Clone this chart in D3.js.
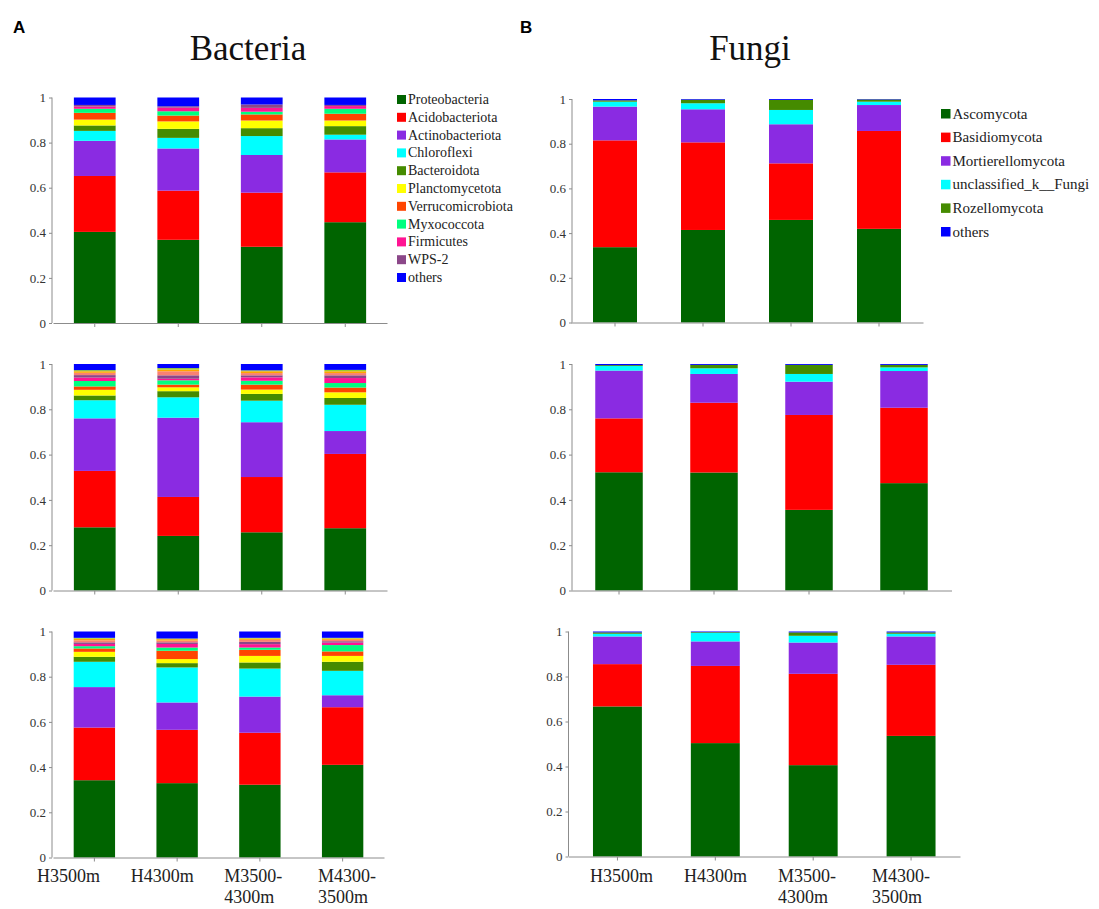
<!DOCTYPE html>
<html>
<head>
<meta charset="utf-8">
<script src="https://cdn.jsdelivr.net/npm/d3@7/dist/d3.min.js"></script>
<style>
  body { margin: 0; background: #fff; }
  svg { display: block; }
  .tick text { font-family: "Liberation Serif", "Times New Roman", serif; font-size: 13px; fill: #333; }
  .axis path, .axis line { stroke: #8c8c8c; }
</style>
</head>
<body>
<script>
// sites on the x axis
var sites = ["H3500m", "H4300m", "M3500-4300m", "M4300-3500m"];
var siteLabels = [["H3500m"], ["H4300m"], ["M3500-", "4300m"], ["M4300-", "3500m"]];
var yTicks = [0, 0.2, 0.4, 0.6, 0.8, 1];

// bacteria taxa (bottom of stack first); the three unnamed ones only show up in the lower panels
var bacteriaTaxa = ["Proteobacteria", "Acidobacteriota", "Actinobacteriota", "Chloroflexi", "Bacteroidota",
  "Planctomycetota", "Verrucomicrobiota", "Myxococcota", "Firmicutes", "WPS-2", "minor1", "minor2", "minor3", "others"];
var bacteriaLegend = ["Proteobacteria", "Acidobacteriota", "Actinobacteriota", "Chloroflexi", "Bacteroidota",
  "Planctomycetota", "Verrucomicrobiota", "Myxococcota", "Firmicutes", "WPS-2", "others"];
var bacteriaColors = ["#006400", "#ff0000", "#8a2be2", "#00ffff", "#458b00", "#ffff00", "#ff4500",
  "#00ff7f", "#ff1493", "#8b4789", "#fa8072", "#ffa500", "#9acd32", "#0000ff"];

// rows = taxa, columns = sites
var bacteriaTop = [
  [0.404, 0.369, 0.338, 0.447],
  [0.248, 0.218, 0.240, 0.221],
  [0.156, 0.187, 0.167, 0.146],
  [0.044, 0.047, 0.084, 0.021],
  [0.024, 0.040, 0.035, 0.038],
  [0.026, 0.033, 0.034, 0.025],
  [0.030, 0.026, 0.027, 0.030],
  [0.018, 0.019, 0.012, 0.022],
  [0.010, 0.016, 0.017, 0.012],
  [0.007, 0.006, 0.015, 0.005],
  [0, 0, 0, 0],
  [0, 0, 0, 0],
  [0, 0, 0, 0],
  [0.033, 0.039, 0.031, 0.033]
];
var bacteriaMid = [
  [0.279, 0.241, 0.257, 0.275],
  [0.249, 0.172, 0.244, 0.328],
  [0.232, 0.350, 0.242, 0.101],
  [0.080, 0.090, 0.095, 0.116],
  [0.021, 0.027, 0.030, 0.030],
  [0.025, 0.017, 0.019, 0.025],
  [0.015, 0.012, 0.022, 0.021],
  [0.024, 0.019, 0.017, 0.020],
  [0.015, 0.007, 0.015, 0.022],
  [0.011, 0.015, 0.009, 0.012],
  [0.010, 0.018, 0.010, 0.010],
  [0.007, 0.007, 0.008, 0.008],
  [0.005, 0.007, 0.004, 0.006],
  [0.027, 0.018, 0.028, 0.026]
];
var bacteriaBottom = [
  [0.342, 0.329, 0.322, 0.410],
  [0.233, 0.236, 0.230, 0.255],
  [0.179, 0.121, 0.160, 0.053],
  [0.112, 0.155, 0.124, 0.108],
  [0.022, 0.019, 0.027, 0.040],
  [0.022, 0.018, 0.029, 0.026],
  [0.015, 0.037, 0.027, 0.020],
  [0.010, 0.014, 0.010, 0.028],
  [0.010, 0.016, 0.015, 0.011],
  [0.007, 0.007, 0.010, 0.006],
  [0.009, 0.008, 0.009, 0.006],
  [0.007, 0.006, 0.006, 0.006],
  [0.004, 0.003, 0.003, 0.003],
  [0.028, 0.031, 0.028, 0.028]
];

// fungi taxa
var fungiTaxa = ["Ascomycota", "Basidiomycota", "Mortierellomycota", "unclassified_k__Fungi", "Rozellomycota", "others"];
var fungiColors = ["#006400", "#ff0000", "#8a2be2", "#00ffff", "#458b00", "#0000ff"];
var fungiTop = [
  [0.337, 0.414, 0.459, 0.419],
  [0.478, 0.392, 0.253, 0.438],
  [0.151, 0.148, 0.175, 0.116],
  [0.022, 0.027, 0.064, 0.015],
  [0.006, 0.016, 0.045, 0.010],
  [0.006, 0.003, 0.004, 0.002]
];
var fungiMid = [
  [0.522, 0.521, 0.356, 0.474],
  [0.238, 0.308, 0.419, 0.333],
  [0.211, 0.127, 0.147, 0.162],
  [0.020, 0.025, 0.034, 0.016],
  [0.004, 0.015, 0.040, 0.011],
  [0.005, 0.004, 0.004, 0.004]
];
var fungiBottom = [
  [0.667, 0.504, 0.406, 0.536],
  [0.188, 0.343, 0.406, 0.316],
  [0.123, 0.109, 0.139, 0.126],
  [0.012, 0.038, 0.030, 0.012],
  [0.006, 0.003, 0.015, 0.006],
  [0.004, 0.003, 0.004, 0.004]
];

var svg = d3.select('body').append('svg').attr('width', 1099).attr('height', 909);
var serif = '"Liberation Serif", "Times New Roman", serif';

// one stacked panel
function drawPanel(rows, taxa, colors, box) {
  // turn taxon rows into one record per site
  var table = sites.map((s, i) => {
    var rec = { site: s };
    taxa.forEach((t, j) => { rec[t] = rows[j][i]; });
    return rec;
  });
  var series = d3.stack().keys(taxa).offset(d3.stackOffsetExpand)(table);

  var xScale = d3.scaleBand().domain(sites).range([box.x0, box.x1]).paddingInner(0.5).paddingOuter(0.25);
  var yScale = d3.scaleLinear().domain([0, 1]).range([box.yb, box.yt]);
  var color = d3.scaleOrdinal().domain(taxa).range(colors);

  var g = svg.append('g');
  g.selectAll('g.layer')
    .data(series)
    .enter()
    .append('g')
    .attr('class', 'layer')
    .attr('fill', d => color(d.key))
    .selectAll('rect')
    .data(d => d)
    .enter()
    .append('rect')
    .attr('x', d => xScale(d.data.site))
    .attr('width', xScale.bandwidth())
    .attr('y', d => yScale(d[1]))
    .attr('height', d => Math.max(0, yScale(d[0]) - yScale(d[1])));

  // x axis: ticks only, labels come later
  g.append('g')
    .attr('class', 'axis')
    .attr('transform', `translate(0,${box.yb})`)
    .call(d3.axisBottom(xScale).tickSize(4).tickSizeOuter(0).tickFormat(''));

  // y axis
  g.append('g')
    .attr('class', 'axis')
    .attr('transform', `translate(${box.ax},0)`)
    .call(d3.axisLeft(yScale).tickValues(yTicks).tickSize(3).tickPadding(3).tickFormat(d3.format('~g')))
    .call(a => a.select('.domain').attr('d', `M0,${box.yb}V${box.yt}`));
}

// bacteria column
var bacBoxes = [
  { x0: 53, x1: 387, ax: 52, yt: 97.5, yb: 323 },
  { x0: 53, x1: 387, ax: 52, yt: 364, yb: 590.5 },
  { x0: 53, x1: 384, ax: 52, yt: 631.5, yb: 857.5 }
];
[bacteriaTop, bacteriaMid, bacteriaBottom].forEach((rows, i) => drawPanel(rows, bacteriaTaxa, bacteriaColors, bacBoxes[i]));

// fungi column
var funBoxes = [
  { x0: 571, x1: 923, ax: 572, yt: 99, yb: 322.5 },
  { x0: 571.5, x1: 951.5, ax: 572, yt: 364, yb: 590.5 },
  { x0: 568.5, x1: 960, ax: 568.5, yt: 631.5, yb: 856.5 }
];
[fungiTop, fungiMid, fungiBottom].forEach((rows, i) => drawPanel(rows, fungiTaxa, fungiColors, funBoxes[i]));

// x labels under the bottom panels
function drawLabels(x0, x1) {
  var lx = d3.scalePoint().domain(sites).range([x0, x1]);
  sites.forEach((s, i) => {
    var t = svg.append('text')
      .attr('x', lx(s)).attr('y', 882)
      .attr('font-family', serif).attr('font-size', 18).attr('fill', '#222');
    siteLabels[i].forEach((line, k) => {
      t.append('tspan').attr('x', lx(s)).attr('dy', k === 0 ? 0 : 21).text(line);
    });
  });
}
drawLabels(37, 318);
drawLabels(590, 872);

// legends
function drawLegend(names, colors, taxa, x, y, step, size, fontSize) {
  var color = d3.scaleOrdinal().domain(taxa).range(colors);
  var lg = svg.append('g').attr('transform', `translate(${x},${y})`);
  var item = lg.selectAll('g').data(names).enter().append('g')
    .attr('transform', (d, i) => `translate(0,${i * step})`);
  item.append('rect').attr('x', 0).attr('y', -size).attr('width', size).attr('height', size)
    .attr('fill', d => color(d));
  item.append('text').attr('x', size + 2).attr('y', 0)
    .attr('font-family', serif).attr('font-size', fontSize).attr('fill', '#222')
    .text(d => d);
}
drawLegend(bacteriaLegend, bacteriaColors, bacteriaTaxa, 397, 104, 17.8, 9, 14);
drawLegend(fungiTaxa, fungiColors, fungiTaxa, 941, 118.5, 23.6, 9.5, 15);

// titles and panel letters
svg.append('text').attr('x', 248).attr('y', 60).attr('text-anchor', 'middle')
  .attr('font-family', serif).attr('font-size', 35).attr('fill', '#111').text('Bacteria');
svg.append('text').attr('x', 750).attr('y', 60).attr('text-anchor', 'middle')
  .attr('font-family', serif).attr('font-size', 35).attr('fill', '#111').text('Fungi');
svg.append('text').attr('x', 13).attr('y', 33)
  .attr('font-family', '"Liberation Sans", Arial, sans-serif').attr('font-weight', 'bold').attr('font-size', 17).text('A');
svg.append('text').attr('x', 520).attr('y', 33)
  .attr('font-family', '"Liberation Sans", Arial, sans-serif').attr('font-weight', 'bold').attr('font-size', 17).text('B');
</script>
</body>
</html>
